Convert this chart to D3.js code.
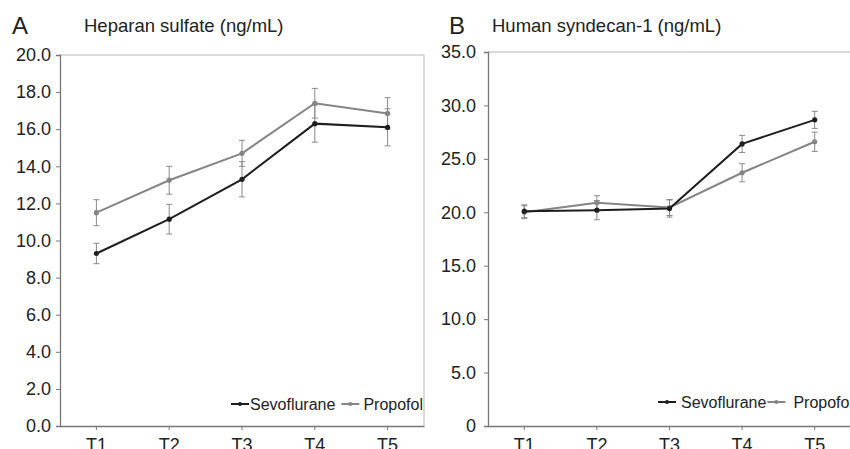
<!DOCTYPE html>
<html>
<head>
<meta charset="utf-8">
<script src="https://cdn.jsdelivr.net/npm/d3@7"></script>
<style>
  body { margin: 0; background: #fff; }
  svg text { font-family: "Liberation Sans", Arial, sans-serif; fill: #222; }
</style>
</head>
<body>
<svg id="chart" width="850" height="449"></svg>
<script>
// time points
const times = ['T1', 'T2', 'T3', 'T4', 'T5'];

// panel A - heparan sulfate (ng/mL)
const hsSevo = [9.3, 11.15, 13.3, 16.3, 16.1];
const hsSevoErr = [0.55, 0.8, 0.95, 1.0, 1.0];
const hsProp = [11.5, 13.25, 14.7, 17.4, 16.85];
const hsPropErr = [0.7, 0.75, 0.7, 0.8, 0.85];
const hsTicks = [0, 2, 4, 6, 8, 10, 12, 14, 16, 18, 20];

// panel B - human syndecan-1 (ng/mL)
const sdSevo = [20.1, 20.2, 20.35, 26.4, 28.65];
const sdSevoErr = [0.6, 0.9, 0.8, 0.8, 0.8];
const sdProp = [20.0, 20.9, 20.45, 23.7, 26.6];
const sdPropErr = [0.6, 0.65, 0.75, 0.85, 0.9];
const sdTicks = [0, 5, 10, 15, 20, 25, 30, 35];

const seriesNames = ['Sevoflurane', 'Propofol'];
const colors = ['#1e1e1e', '#858585'];

const svg = d3.select('#chart');

function drawPanel(cfg) {
  const g = svg.append('g');

  const x = d3.scaleBand().domain(times).range([cfg.x0, cfg.x1]);
  const y = d3.scaleLinear().domain([0, cfg.max]).range([cfg.y1, cfg.y0]);

  // light frame (top + right)
  g.append('path')
    .attr('d', `M${cfg.x0},${cfg.y0}H${cfg.x1}V${cfg.y1}`)
    .attr('fill', 'none')
    .attr('stroke', '#b5b5b5')
    .attr('stroke-width', 1);

  // y axis
  const yAxis = g.append('g')
    .attr('transform', `translate(${cfg.x0},0)`)
    .call(d3.axisLeft(y).tickValues(cfg.ticks).tickSize(4).tickPadding(cfg.pad)
      .tickFormat(cfg.fmt));
  yAxis.select('.domain').attr('stroke', '#777').attr('stroke-width', 1.3);
  yAxis.selectAll('.tick line').attr('stroke', '#777');
  yAxis.selectAll('text').style('font-size', '18px').attr('fill', '#222');

  // x axis
  const xAxis = g.append('g')
    .attr('transform', `translate(0,${cfg.y1})`)
    .call(d3.axisBottom(x).tickSize(4).tickSizeOuter(0).tickPadding(8));
  xAxis.select('.domain').attr('stroke', '#777').attr('stroke-width', 1.3);
  xAxis.selectAll('.tick line').attr('stroke', '#777');
  xAxis.selectAll('text').style('font-size', '18px').attr('fill', '#222');

  const cx = t => x(t) + x.bandwidth() / 2;

  // draw propofol first so sevoflurane sits on top
  [1, 0].forEach(i => {
    const vals = cfg.series[i];
    const errs = cfg.errors[i];
    const pts = times.map((t, j) => ({ t: t, v: vals[j], e: errs[j] }));

    // error bars
    const eb = g.append('g');
    pts.forEach(p => {
      eb.append('line')
        .attr('x1', cx(p.t)).attr('x2', cx(p.t))
        .attr('y1', y(p.v - p.e)).attr('y2', y(p.v + p.e))
        .attr('stroke', '#8a8a8a').attr('stroke-width', 1);
      [p.v - p.e, p.v + p.e].forEach(c => {
        eb.append('line')
          .attr('x1', cx(p.t) - 3).attr('x2', cx(p.t) + 3)
          .attr('y1', y(c)).attr('y2', y(c))
          .attr('stroke', '#8a8a8a').attr('stroke-width', 1);
      });
    });

    g.append('path')
      .datum(pts)
      .attr('fill', 'none')
      .attr('stroke', colors[i])
      .attr('stroke-width', 2)
      .attr('d', d3.line().x(d => cx(d.t)).y(d => y(d.v)));

    g.selectAll(null)
      .data(pts)
      .join('circle')
      .attr('cx', d => cx(d.t))
      .attr('cy', d => y(d.v))
      .attr('r', 2.6)
      .attr('fill', colors[i]);
  });

  // panel letter + title
  g.append('text')
    .attr('x', cfg.letterX).attr('y', 34)
    .style('font-size', '24px')
    .text(cfg.letter);
  g.append('text')
    .attr('x', cfg.titleX).attr('y', 32)
    .style('font-size', '18.5px')
    .text(cfg.title);

  // legend
  const lg = g.append('g');
  let lx = cfg.legX;
  seriesNames.forEach((name, i) => {
    lg.append('line')
      .attr('x1', lx).attr('x2', lx + 18)
      .attr('y1', cfg.legY).attr('y2', cfg.legY)
      .attr('stroke', colors[i]).attr('stroke-width', 2);
    lg.append('circle')
      .attr('cx', lx + 9).attr('cy', cfg.legY).attr('r', 2)
      .attr('fill', colors[i]);
    const txt = lg.append('text')
      .attr('x', lx + 18 + cfg.textGap[i]).attr('y', cfg.legY + 6)
      .style('font-size', '16px')
      .text(name);
    lx += 18 + cfg.textGap[i] + txt.node().getComputedTextLength() + cfg.legGap;
  });
}

drawPanel({
  x0: 60, x1: 424, y0: 55, y1: 426, max: 20,
  ticks: hsTicks, fmt: d3.format('.1f'), pad: 5,
  series: [hsSevo, hsProp], errors: [hsSevoErr, hsPropErr],
  letter: 'A', letterX: 12, title: 'Heparan sulfate (ng/mL)', titleX: 84,
  legX: 231, legY: 404, legGap: 6, textGap: [1, 4]
});

drawPanel({
  x0: 488, x1: 851, y0: 52, y1: 426, max: 35,
  ticks: sdTicks, fmt: d => d === 0 ? '0' : d3.format('.1f')(d), pad: 8,
  series: [sdSevo, sdProp], errors: [sdSevoErr, sdPropErr],
  letter: 'B', letterX: 449, title: 'Human syndecan-1 (ng/mL)', titleX: 492,
  legX: 658, legY: 402, legGap: 1, textGap: [5, 8]
});
</script>
</body>
</html>
